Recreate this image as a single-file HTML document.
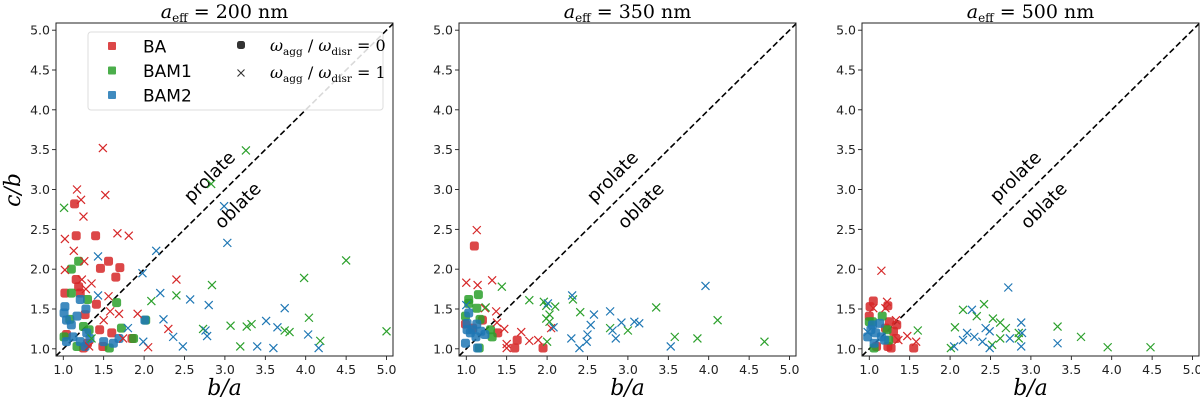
<!DOCTYPE html>
<html><head><meta charset="utf-8">
<style>
html,body{margin:0;padding:0;background:#fff;}
svg{display:block;}
.tick{font-family:"DejaVu Sans","Liberation Sans",sans-serif;font-size:12.5px;fill:#222;}
.serif{font-family:"DejaVu Serif","Liberation Serif",serif;}
</style></head>
<body>
<svg id="chart" width="1200" height="404" xmlns="http://www.w3.org/2000/svg"></svg>
<script>
const xTicks=[1.0,1.5,2.0,2.5,3.0,3.5,4.0,4.5,5.0];
const yTicks=[1.0,1.5,2.0,2.5,3.0,3.5,4.0,4.5,5.0];
const titles=["200","350","500"];
const seriesNames=["BA","BAM1","BAM2"];
const colors=["#d62728","#2ca02c","#1f77b4"];
// panel 1
const p1BAsqX=[1.14,1.16,1.40,1.56,1.46,1.70,1.65,1.02,1.16,1.19,1.21,1.41,1.45,1.60,1.85,1.49,1.25,1.04,1.27,1.30];
const p1BAsqY=[2.82,2.42,2.42,2.10,2.01,2.02,1.90,1.70,1.87,1.78,1.70,1.56,1.24,1.20,1.13,1.03,1.01,1.18,1.43,1.07];
const p1BAxX=[1.49,1.17,1.22,1.52,1.25,1.02,1.67,1.81,1.13,1.26,1.02,2.40,1.23,1.35,1.28,1.56,1.92,1.69,1.58,2.30,2.05,1.74,1.32,1.50];
const p1BAxY=[3.52,3.00,2.87,2.93,2.66,2.38,2.45,2.42,2.23,2.10,1.99,1.87,1.87,1.82,1.75,1.66,1.44,1.44,1.47,1.25,1.02,1.13,1.03,1.36];
const p1M1sqX=[1.10,1.19,1.10,1.30,1.66,1.01,1.08,1.72,1.87,2.02,1.57,1.32,1.17,1.25];
const p1M1sqY=[2.00,2.10,1.70,1.62,1.58,1.15,1.37,1.26,1.13,1.36,1.01,1.24,1.03,1.28];
const p1M1xX=[1.01,3.26,2.83,4.50,3.98,2.84,2.40,2.09,4.04,3.07,3.27,3.33,2.73,3.74,3.80,5.00,4.18,3.19,1.35];
const p1M1xY=[2.77,3.49,3.07,2.11,1.89,1.80,1.67,1.60,1.39,1.29,1.28,1.31,1.25,1.23,1.21,1.22,1.10,1.03,1.13];
const p1M2sqX=[1.02,1.01,1.04,1.21,1.28,1.17,1.10,1.29,1.50,1.62,1.69,2.01,1.12,1.21,1.27,1.04,1.33];
const p1M2sqY=[1.53,1.45,1.36,1.62,1.50,1.41,1.30,1.20,1.09,1.07,1.13,1.36,1.15,1.09,1.03,1.09,1.13];
const p1M2xX=[1.43,2.15,2.99,3.03,1.98,1.43,2.20,2.57,2.80,3.74,2.24,3.51,3.65,2.76,2.78,2.36,4.03,2.48,3.40,3.60,4.16,1.99,1.80];
const p1M2xY=[2.16,2.23,2.79,2.33,1.95,1.67,1.70,1.62,1.55,1.51,1.37,1.35,1.27,1.23,1.16,1.15,1.18,1.03,1.03,1.01,1.01,1.09,1.26];
// panel 2
const p2BAsqX=[1.10,1.60,1.95,1.63,1.39,0.99,1.20,1.08];
const p2BAsqY=[2.29,1.01,1.01,1.11,1.20,1.31,1.36,1.26];
const p2BAxX=[1.13,1.00,1.14,1.32,1.37,1.23,1.47,1.68,1.50,1.50,1.78,1.89,2.05,1.38];
const p2BAxY=[2.49,1.83,1.80,1.86,1.47,1.51,1.25,1.21,1.06,1.01,1.10,1.11,1.26,1.33];
const p2M1sqX=[1.03,1.03,1.15,1.13,0.99,1.17,1.30,1.32,1.16];
const p2M1sqY=[1.62,1.57,1.68,1.51,1.41,1.37,1.24,1.15,1.01];
const p2M1xX=[1.44,1.78,1.96,1.99,2.10,2.32,2.41,1.99,2.03,2.03,2.00,2.78,3.00,3.35,3.58,3.86,4.11,4.69,1.24];
const p2M1xY=[1.78,1.61,1.59,1.54,1.53,1.62,1.46,1.38,1.43,1.34,1.09,1.26,1.23,1.52,1.15,1.13,1.36,1.09,1.52];
const p2M2sqX=[1.01,1.03,1.05,1.12,1.14,0.99,1.08,1.18,1.23,1.01,1.13];
const p2M2sqY=[1.32,1.45,1.20,1.15,1.01,1.07,1.24,1.22,1.18,1.24,1.31];
const p2M2xX=[1.00,2.31,2.01,2.08,2.58,2.54,2.78,2.92,3.08,3.14,2.81,2.85,2.30,2.50,2.49,2.40,3.96,3.53];
const p2M2xY=[1.55,1.67,1.57,1.27,1.43,1.30,1.47,1.33,1.34,1.32,1.23,1.13,1.13,1.18,1.09,1.01,1.79,1.03];
// panel 3
const p3BAsqX=[1.05,1.01,1.00,1.23,1.25,1.34,1.30,1.27,1.23,1.55,1.20,1.09,1.33];
const p3BAsqY=[1.60,1.53,1.41,1.54,1.34,1.30,1.22,1.01,1.03,1.01,1.26,1.03,1.13];
const p3BAxX=[1.15,1.22,1.05,1.20,1.33,1.47,1.58,1.36];
const p3BAxY=[1.98,1.59,1.51,1.51,1.36,1.16,1.09,1.11];
const p3M1sqX=[1.00,1.04,1.16,1.22,1.06,1.24];
const p3M1sqY=[1.34,1.34,1.41,1.24,1.01,1.11];
const p3M1xX=[1.60,2.16,2.06,2.42,2.33,2.53,2.62,2.69,2.62,2.52,2.85,2.85,3.33,3.62,3.95,4.48,2.01];
const p3M1xY=[1.23,1.49,1.27,1.56,1.41,1.38,1.33,1.26,1.13,1.05,1.20,1.13,1.28,1.15,1.02,1.02,1.01];
const p3M2sqX=[1.02,1.08,1.15,1.06,1.19,1.04,1.13,0.98];
const p3M2sqY=[1.24,1.20,1.15,1.07,1.11,1.30,1.32,1.15];
const p3M2xX=[2.72,2.27,2.21,2.16,2.05,2.30,2.44,2.49,2.40,2.49,2.88,2.89,2.88,2.74,3.33,0.98];
const p3M2xY=[1.77,1.49,1.20,1.11,1.03,1.15,1.26,1.22,1.09,1.01,1.33,1.20,1.03,1.13,1.07,1.21];

const panels=[
 {L:56,sq:[[p1BAsqX,p1BAsqY],[p1M1sqX,p1M1sqY],[p1M2sqX,p1M2sqY]],xs:[[p1BAxX,p1BAxY],[p1M1xX,p1M1xY],[p1M2xX,p1M2xY]]},
 {L:459,sq:[[p2BAsqX,p2BAsqY],[p2M1sqX,p2M1sqY],[p2M2sqX,p2M2sqY]],xs:[[p2BAxX,p2BAxY],[p2M1xX,p2M1xY],[p2M2xX,p2M2xY]]},
 {L:862,sq:[[p3BAsqX,p3BAsqY],[p3M1sqX,p3M1sqY],[p3M2sqX,p3M2sqY]],xs:[[p3BAxX,p3BAxY],[p3M1xX,p3M1xY],[p3M2xX,p3M2xY]]}
];
const T=23,W=337,H=333,XMIN=0.91,XMAX=5.08,YMIN=0.91,YMAX=5.09;
const NS="http://www.w3.org/2000/svg";
const svg=document.getElementById('chart');
function mk(tag,attrs,parent){const e=document.createElementNS(NS,tag);for(const k in attrs)e.setAttribute(k,attrs[k]);(parent||svg).appendChild(e);return e;}

panels.forEach((p,pi)=>{
  const sx=v=>p.L+(v-XMIN)/(XMAX-XMIN)*W;
  const sy=v=>T+H-(v-YMIN)/(YMAX-YMIN)*H;
  const g=mk('g',{});
  
  
  const t=mk('text',{x:p.L+W/2,y:18,'text-anchor':'middle','font-size':'19',class:'serif'},g);
  
  
  t.innerHTML='<tspan font-style="italic">a</tspan><tspan font-size="12" dy="4">eff</tspan><tspan dy="-4"> = '+titles[pi]+' nm</tspan>';
  xTicks.forEach(v=>{
    mk('line',{x1:sx(v),x2:sx(v),y1:T+H,y2:T+H+4,stroke:'#000','stroke-width':0.8},g);
    const tx=mk('text',{x:sx(v),y:T+H+18,'text-anchor':'middle',class:'tick'},g);
    
    
    tx.textContent=v.toFixed(1);
  });
  yTicks.forEach(v=>{
    mk('line',{x1:p.L-4,x2:p.L,y1:sy(v),y2:sy(v),stroke:'#000','stroke-width':0.8},g);
    const ty=mk('text',{x:p.L-6,y:sy(v)+4.5,'text-anchor':'end',class:'tick'},g);
    
    
    ty.textContent=v.toFixed(1);
  });
  const xl=mk('text',{x:p.L+W/2,y:395,'text-anchor':'middle','font-size':'22','font-style':'italic',class:'serif'},g);
  
  
  xl.textContent='b/a';
  const dl=mk('line',{x1:sx(XMIN),y1:sy(YMIN),x2:sx(XMAX),y2:sy(XMAX),stroke:'#000','stroke-width':1.6,'stroke-dasharray':'6,3'},g);
  
  
  [['prolate',2.81,3.16],['oblate',3.16,2.80]].forEach(a=>{
    const tt=mk('text',{x:sx(a[1]),y:sy(a[2])+6,'text-anchor':'middle','font-size':'18','font-family':'DejaVu Sans, Liberation Sans, sans-serif',transform:'rotate(-45 '+sx(a[1])+' '+sy(a[2])+')'},g);
    
    
    tt.textContent=a[0];
  });
  p.sq.forEach((s,si)=>{
    s[0].forEach((xv,i)=>{
      const r=mk('rect',{x:sx(xv)-4.5,y:sy(s[1][i])-4.5,width:9,height:9,rx:2.5,fill:colors[si],'fill-opacity':0.85},g);
      
      
    });
  });
  p.xs.forEach((s,si)=>{
    s[0].forEach((xv,i)=>{
      const cx=sx(xv),cy=sy(s[1][i]);
      const path=mk('path',{d:`M${cx-4},${cy-4}L${cx+4},${cy+4}M${cx-4},${cy+4}L${cx+4},${cy-4}`,stroke:colors[si],'stroke-width':1.2,fill:'none'},g);
      
      
    });
  });
  const fr=mk('rect',{x:p.L,y:T,width:W,height:H,fill:'none',stroke:'#222','stroke-width':1},g);
  
  
});

const yl=mk('text',{x:0,y:0,'text-anchor':'middle','font-size':'22','font-style':'italic',class:'serif',transform:'translate(20,190) rotate(-90)'});


yl.textContent='c/b';

const lg=mk('g',{});


mk('rect',{x:88,y:32,width:295,height:78,rx:3,fill:'#fff','fill-opacity':0.85,stroke:'#ddd','stroke-width':1},lg);
seriesNames.forEach((n,i)=>{
  const y=46+i*24.5;
  const r=mk('rect',{x:108,y:y-4,width:8,height:8,rx:1,fill:colors[i],'fill-opacity':0.85},lg);
  
  
  const t=mk('text',{x:143,y:y+6.5,'font-size':'17','font-family':'DejaVu Sans, Liberation Sans, sans-serif'},lg);
  
  
  t.textContent=n;
});
const lc=mk('rect',{x:237,y:41,width:8,height:8,rx:2.5,fill:'#333'},lg);


mk('path',{d:'M237.5,69.5L244.5,76.5M237.5,76.5L244.5,69.5',stroke:'#333','stroke-width':1.1},lg);
[['0',51],['1',78]].forEach(a=>{
  const t=mk('text',{x:270,y:a[1],'font-size':'16',class:'serif'},lg);
  
  
  t.innerHTML='<tspan font-style="italic">ω</tspan><tspan font-size="10.5" dy="4">agg</tspan><tspan dy="-4"> / </tspan><tspan font-style="italic">ω</tspan><tspan font-size="10.5" dy="4">disr</tspan><tspan dy="-4"> = '+a[0]+'</tspan>';
});
</script>
</body></html>
